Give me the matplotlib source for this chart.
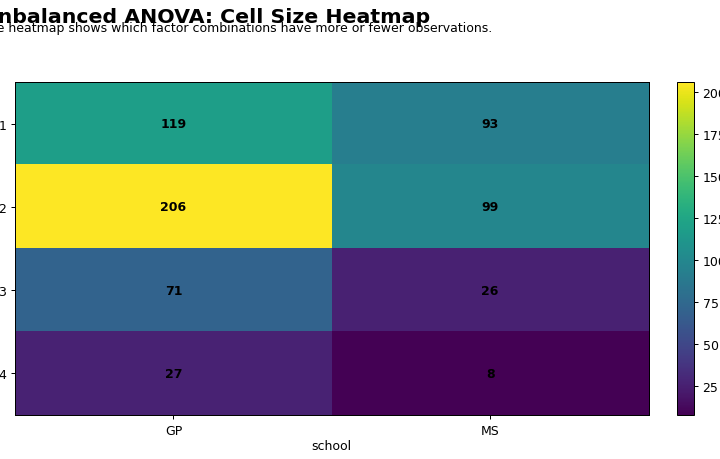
import numpy as np
import matplotlib.pyplot as plt

# Cell counts per factor combination
schools = ["GP", "MS"]
levels = ["1", "2", "3", "4"]
counts_gp = [119, 206, 71, 27]
counts_ms = [93, 99, 26, 8]

counts = np.array([counts_gp, counts_ms]).T

# rendered at 90 dpi so that 8 x 5.11 in gives 720 x 460 px
fig = plt.figure(figsize=(8.0, 460 / 90), dpi=90)
ax = fig.add_axes([0.0208, 0.0957, 0.880, 0.724])
cax = fig.add_axes([0.940, 0.0957, 0.0236, 0.724])

im = ax.imshow(counts, cmap="viridis", aspect="auto",
               vmin=counts.min(), vmax=counts.max())

for i in range(len(levels)):
    for j in range(len(schools)):
        ax.text(j, i, str(counts[i, j]), ha="center", va="center",
                color="black", fontsize=10, fontweight="bold")

ax.set_xticks(range(len(schools)))
ax.set_xticklabels(schools)
ax.set_yticks(range(len(levels)))
ax.set_yticklabels(levels)
ax.set_xlabel("school", labelpad=2)
ax.set_ylabel("studytime")

cb = fig.colorbar(im, cax=cax)
cb.set_ticks([25, 50, 75, 100, 125, 150, 175, 200])

fig.text(-0.026, 0.962, "Unbalanced ANOVA: Cell Size Heatmap",
         fontsize=16.4, fontweight="bold", ha="left", va="center")
fig.text(-0.026, 0.938, "The heatmap shows which factor combinations have more or fewer observations.",
         fontsize=10, ha="left", va="center")

fig.savefig("out.png", dpi=90)
